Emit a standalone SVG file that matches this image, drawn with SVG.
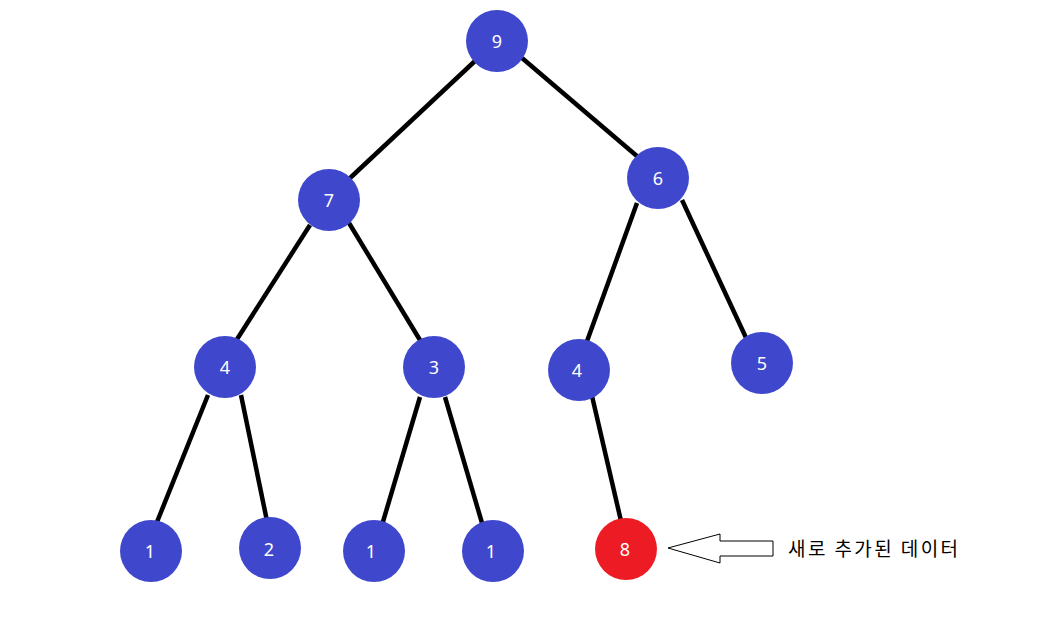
<svg xmlns="http://www.w3.org/2000/svg" width="1064" height="634" viewBox="0 0 1064 634">
<style>
.n{fill:#3F48CC}
.r{fill:#ED1C24}
.t{fill:#fff;font-family:"Noto Sans","Liberation Sans",sans-serif;font-size:18px;text-anchor:middle;dominant-baseline:central}
.e{stroke:#000;stroke-width:4.5;stroke-linecap:butt}
</style>
<rect width="1064" height="634" fill="#fff"/>
<g id="edges">
<line class="e" x1="475" y1="61" x2="349" y2="179"/>
<line class="e" x1="522" y1="58" x2="638" y2="157"/>
<line class="e" x1="310" y1="225" x2="234" y2="344"/>
<line class="e" x1="349" y1="223" x2="423" y2="345"/>
<line class="e" x1="637" y1="203" x2="586" y2="344"/>
<line class="e" x1="682" y1="200" x2="748" y2="342"/>
<line class="e" x1="208" y1="395" x2="157" y2="522"/>
<line class="e" x1="241" y1="395" x2="267" y2="521"/>
<line class="e" x1="420" y1="397" x2="382" y2="525"/>
<line class="e" x1="445" y1="397" x2="482" y2="523"/>
<line class="e" x1="592" y1="396" x2="621" y2="521"/>
</g>
<g id="n9"><circle class="n" cx="497" cy="41" r="31"/><text class="t" x="497" y="41">9</text></g>
<g id="n7"><circle class="n" cx="329" cy="200" r="31"/><text class="t" x="329" y="200">7</text></g>
<g id="n6"><circle class="n" cx="658" cy="178" r="31"/><text class="t" x="658" y="178">6</text></g>
<g id="n4a"><circle class="n" cx="225" cy="367" r="31"/><text class="t" x="225" y="367">4</text></g>
<g id="n3"><circle class="n" cx="434" cy="367" r="31"/><text class="t" x="434" y="367">3</text></g>
<g id="n4b"><circle class="n" cx="579" cy="370" r="31"/><text class="t" x="577" y="370">4</text></g>
<g id="n5"><circle class="n" cx="762" cy="363" r="31"/><text class="t" x="762" y="363">5</text></g>
<g id="n1a"><circle class="n" cx="151" cy="551" r="31"/><text class="t" x="150" y="551">1</text></g>
<g id="n2"><circle class="n" cx="270" cy="548" r="31"/><text class="t" x="269" y="549">2</text></g>
<g id="n1b"><circle class="n" cx="374" cy="551" r="31"/><text class="t" x="371" y="551">1</text></g>
<g id="n1c"><circle class="n" cx="493" cy="551" r="31"/><text class="t" x="491" y="551">1</text></g>
<g id="n8"><circle class="r" cx="626" cy="549" r="31"/><text class="t" x="625" y="549">8</text></g>
<g id="note">
<polygon points="668,548 720,534 720,541 773,541 773,556 720,556 720,563" fill="#fff" stroke="#000" stroke-width="1"/>
<text x="788" y="556" font-family="'Noto Sans CJK KR',sans-serif" font-size="19" fill="#000" textLength="170">새로 추가된 데이터</text>
</g>
</svg>
